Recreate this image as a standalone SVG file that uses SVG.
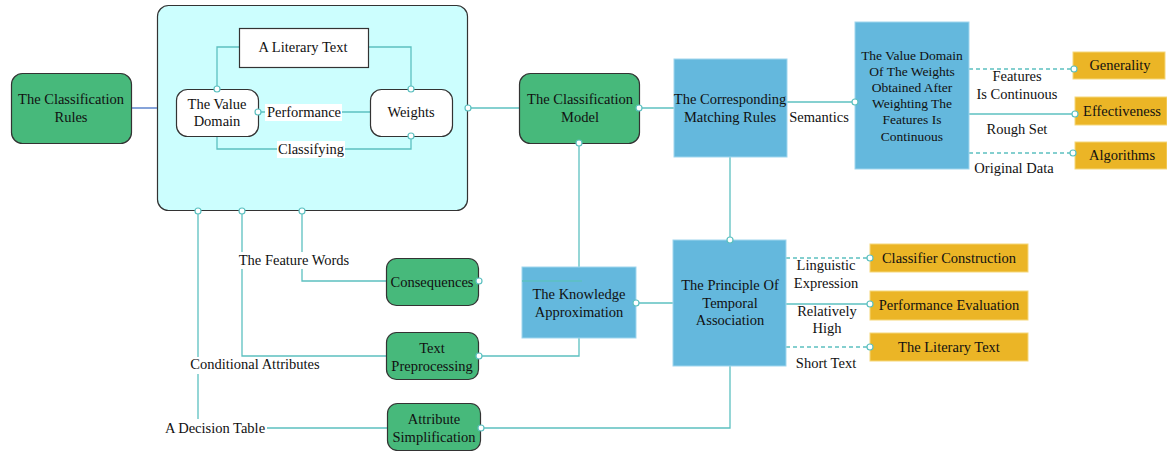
<svg xmlns="http://www.w3.org/2000/svg" width="1167" height="451" viewBox="0 0 1167 451">
<defs>
<style>
text{font-family:"Liberation Serif","Times New Roman",serif;font-size:14.5px;fill:#111;text-anchor:middle}
.g{fill:#47b97b;stroke:#333;stroke-width:1.2}
.w{fill:#fff;stroke:#333;stroke-width:1.2}
.b{fill:#64b8dd;stroke:#9fd6ee;stroke-width:1}
.o{fill:#ebb526;stroke:#f5d77a;stroke-width:1}
.c{fill:none;stroke:#5cc0c0;stroke-width:1.3}
.d{fill:none;stroke:#5cc0c0;stroke-width:1.3;stroke-dasharray:4 3}
.p{fill:#fff;stroke:#5cc0c0;stroke-width:1.2}
.bg{fill:#fff}
</style>
</defs>
<g id="container">
<rect x="157.5" y="5.5" width="310" height="205" rx="11" fill="#ccfefe" stroke="#333" stroke-width="1.2"/>
</g>
<g id="connectors">
<line x1="131" y1="108" x2="157" y2="108" stroke="#4472c4" stroke-width="1.3"/>
<polyline class="c" points="239,47 217,47 217,89"/>
<polyline class="c" points="368,47 411,47 411,89"/>
<line class="c" x1="370" y1="112" x2="258" y2="112"/>
<polyline class="c" points="217,136 217,149 411,149 411,136"/>
<line class="c" x1="468" y1="108" x2="519" y2="108"/>
<line class="c" x1="639" y1="108" x2="674" y2="108"/>
<line class="c" x1="787" y1="102" x2="855" y2="102"/>
<line class="d" x1="969" y1="69" x2="1074" y2="69"/>
<line class="c" x1="969" y1="114" x2="1075" y2="114"/>
<line class="d" x1="969" y1="153" x2="1073" y2="153"/>
<line class="c" x1="730" y1="157" x2="730" y2="240"/>
<line class="d" x1="786" y1="258" x2="870" y2="258"/>
<line class="c" x1="786" y1="304" x2="870" y2="304"/>
<line class="d" x1="786" y1="347" x2="870" y2="347"/>
<polyline class="c" points="730,366 730,428 481,428"/>
<line class="c" x1="636" y1="303" x2="673" y2="303"/>
<line class="c" x1="579" y1="143" x2="579" y2="267"/>
<polyline class="c" points="302,211 302,281 386,281"/>
<polyline class="c" points="479,356 579,356 579,338"/>
<polyline class="c" points="242,211 242,356 386,356"/>
<polyline class="c" points="198,211 198,428 387,428"/>
</g>
<g id="the-classification-rules">
<rect class="g" x="11.5" y="73.5" width="120" height="70" rx="11"/>
<text x="71" y="104">The Classification</text>
<text x="71" y="122">Rules</text>
</g>
<g id="a-literary-text">
<rect class="w" x="239.5" y="28.5" width="129" height="39"/>
<text x="303" y="52">A Literary Text</text>
</g>
<g id="the-value-domain">
<rect class="w" x="176.5" y="89.5" width="82" height="47" rx="11"/>
<text x="217" y="109">The Value</text>
<text x="217" y="126">Domain</text>
</g>
<g id="weights">
<rect class="w" x="370.5" y="89.5" width="82" height="47" rx="11"/>
<text x="411" y="117">Weights</text>
</g>
<g id="labels-inner">
<rect class="bg" x="265" y="104" width="77" height="17"/>
<text x="304" y="117">Performance</text>
<rect class="bg" x="277" y="141" width="68" height="17"/>
<text x="311" y="154">Classifying</text>
</g>
<g id="the-classification-model">
<rect class="g" x="519.5" y="73.5" width="120" height="70" rx="11"/>
<text x="580" y="104">The Classification</text>
<text x="580" y="122">Model</text>
</g>
<g id="the-corresponding-matching-rules">
<rect class="b" x="674" y="59" width="113" height="98"/>
<text x="730" y="104">The Corresponding</text>
<text x="730" y="122">Matching Rules</text>
</g>
<g id="the-value-domain-of-weights">
<rect class="b" x="855" y="22" width="114" height="147"/>
<text x="912" y="60" style="font-size:13.5px">The Value Domain</text>
<text x="912" y="76" style="font-size:13.5px">Of The Weights</text>
<text x="912" y="92" style="font-size:13.5px">Obtained After</text>
<text x="912" y="108" style="font-size:13.5px">Weighting The</text>
<text x="912" y="124" style="font-size:13.5px">Features Is</text>
<text x="912" y="141" style="font-size:13.5px">Continuous</text>
</g>
<g id="generality">
<rect class="o" x="1073" y="52" width="92" height="27"/>
<text x="1120" y="70">Generality</text>
</g>
<g id="effectiveness">
<rect class="o" x="1075" y="97" width="92" height="28"/>
<text x="1122" y="116">Effectiveness</text>
</g>
<g id="algorithms">
<rect class="o" x="1075" y="142" width="92" height="27"/>
<text x="1122" y="160">Algorithms</text>
</g>
<g id="the-principle-of-temporal-association">
<rect class="b" x="673" y="240" width="113" height="126"/>
<text x="730" y="290">The Principle Of</text>
<text x="730" y="308">Temporal</text>
<text x="730" y="325">Association</text>
</g>
<g id="classifier-construction">
<rect class="o" x="870" y="244" width="158" height="28"/>
<text x="949" y="263">Classifier Construction</text>
</g>
<g id="performance-evaluation">
<rect class="o" x="870" y="291" width="158" height="29"/>
<text x="949" y="310">Performance Evaluation</text>
</g>
<g id="the-literary-text">
<rect class="o" x="870" y="333" width="158" height="28"/>
<text x="949" y="352">The Literary Text</text>
</g>
<g id="the-knowledge-approximation">
<rect class="b" x="522" y="267" width="114" height="71"/>
<line class="c" x1="522" y1="281" x2="582" y2="281"/>
<text x="579" y="299">The Knowledge</text>
<text x="579" y="317">Approximation</text>
</g>
<g id="consequences">
<rect class="g" x="386.5" y="258.5" width="92" height="47" rx="10"/>
<text x="432" y="287">Consequences</text>
</g>
<g id="text-preprocessing">
<rect class="g" x="386.5" y="332.5" width="92" height="47" rx="10"/>
<text x="432" y="353">Text</text>
<text x="432" y="371">Preprocessing</text>
</g>
<g id="attribute-simplification">
<rect class="g" x="387.5" y="403.5" width="93" height="47" rx="10"/>
<text x="434" y="424">Attribute</text>
<text x="434" y="442">Simplification</text>
</g>
<g id="edge-labels">
<text x="819" y="122">Semantics</text>
<text x="1017" y="81">Features</text>
<text x="1017" y="99">Is Continuous</text>
<text x="1017" y="134">Rough Set</text>
<text x="1014" y="173">Original Data</text>
<text x="826" y="270">Linguistic</text>
<text x="826" y="288">Expression</text>
<text x="827" y="316">Relatively</text>
<text x="827" y="333">High</text>
<text x="826" y="368">Short Text</text>
<rect class="bg" x="237" y="252" width="114" height="17"/>
<text x="294" y="265">The Feature Words</text>
<rect class="bg" x="189" y="357" width="132" height="17"/>
<text x="255" y="369">Conditional Attributes</text>
<rect class="bg" x="163" y="419" width="104" height="17"/>
<text x="215" y="433">A Decision Table</text>
</g>
<g id="ports">
<circle class="p" cx="217" cy="89" r="3"/>
<circle class="p" cx="411" cy="89" r="3"/>
<circle class="p" cx="258" cy="112" r="3"/>
<circle class="p" cx="411" cy="136" r="3"/>
<circle class="p" cx="468" cy="108" r="3"/>
<circle class="p" cx="639" cy="108" r="3"/>
<circle class="p" cx="855" cy="102" r="3"/>
<circle class="p" cx="1074" cy="69" r="3"/>
<circle class="p" cx="1075" cy="114" r="3"/>
<circle class="p" cx="1073" cy="153" r="3"/>
<circle class="p" cx="730" cy="240" r="3"/>
<circle class="p" cx="870" cy="258" r="3"/>
<circle class="p" cx="870" cy="304" r="3"/>
<circle class="p" cx="870" cy="347" r="3"/>
<circle class="p" cx="579" cy="143" r="3"/>
<circle class="p" cx="636" cy="303" r="3"/>
<circle class="p" cx="479" cy="281" r="3"/>
<circle class="p" cx="479" cy="356" r="3"/>
<circle class="p" cx="481" cy="428" r="3"/>
<circle class="p" cx="198" cy="211" r="3"/>
<circle class="p" cx="242" cy="211" r="3"/>
<circle class="p" cx="302" cy="211" r="3"/>
</g>
</svg>
